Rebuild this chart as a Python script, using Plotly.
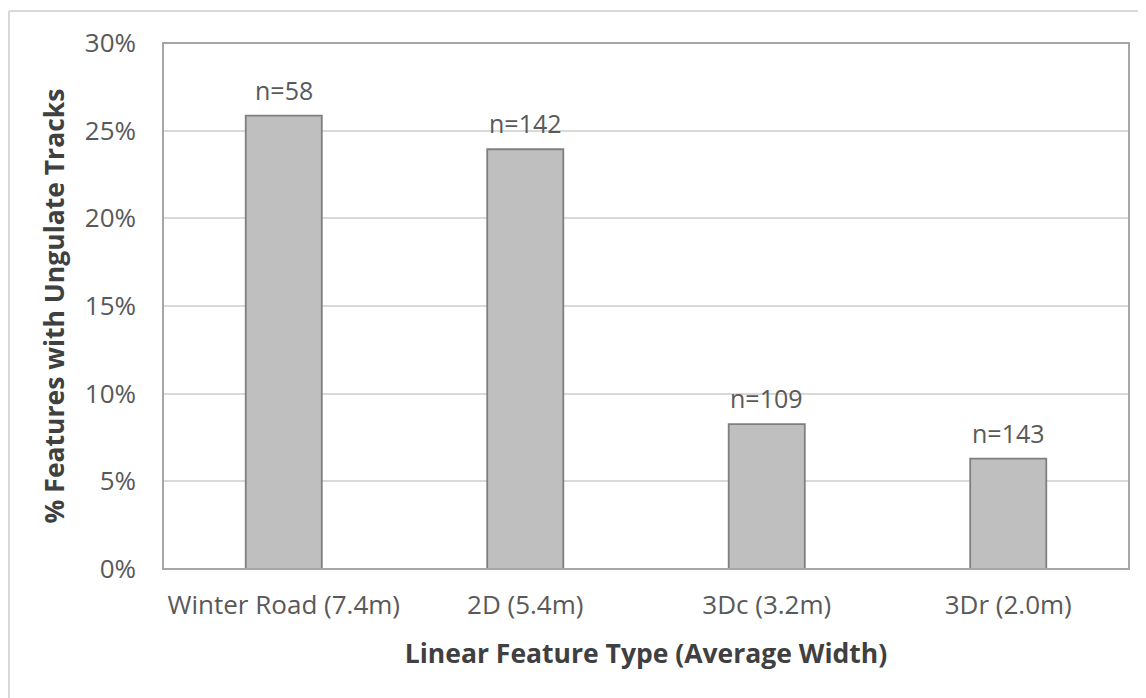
import plotly.graph_objects as go

categories = ["Winter Road (7.4m)", "2D (5.4m)", "3Dc (3.2m)", "3Dr (2.0m)"]
pct_values = [25.86, 23.94, 8.26, 6.29]
n_labels = ["n=58", "n=142", "n=109", "n=143"]
y_ticks = [0, 5, 10, 15, 20, 25, 30]

W, H = 1146, 698
L, T = 155, 35
pw, ph = 966, 526
R, B = W - L - pw, H - T - ph

def px_x(p):
    return (p - L) / pw

def px_y(p):
    return (T + ph - p) / ph

FONT = "Open Sans"
TXT = "#595959"
TSZ = 26

fig = go.Figure()
fig.add_trace(go.Bar(
    x=categories, y=pct_values,
    marker=dict(color="#bfbfbf", line=dict(color="#7f7f7f", width=1.8)),
    width=0.315, hoverinfo="skip",
))

for c, v, t in zip(categories, pct_values, n_labels):
    fig.add_annotation(x=c, y=v, text=t, showarrow=False, yanchor="bottom",
                       yshift=7, font=dict(family=FONT, size=25, color=TXT))

# outer chart border (top and left visible)
fig.add_shape(type="line", xref="paper", yref="paper",
              x0=px_x(1), x1=px_x(W + 5), y0=px_y(3), y1=px_y(3),
              line=dict(color="#d9d9d9", width=2), layer="below")
fig.add_shape(type="line", xref="paper", yref="paper",
              x0=px_x(1), x1=px_x(1), y0=px_y(3), y1=px_y(H + 5),
              line=dict(color="#d9d9d9", width=2), layer="below")
# plot-area border
fig.add_shape(type="rect", xref="paper", yref="paper", x0=0, x1=1, y0=0, y1=1,
              line=dict(color="#a6a6a6", width=2), layer="above")

fig.update_layout(
    width=W, height=H,
    margin=dict(l=L, r=R, t=T, b=B),
    paper_bgcolor="white", plot_bgcolor="white",
    showlegend=False,
    font=dict(family=FONT, color=TXT),
    xaxis=dict(
        showgrid=False, ticks="", showline=False, ticklabelstandoff=18,
        tickfont=dict(family=FONT, size=TSZ, color=TXT),
        title=dict(text="<b>Linear Feature Type (Average Width)</b>",
                   font=dict(family=FONT, size=26.5, color="#404040"), standoff=23),
    ),
    yaxis=dict(
        range=[0, 30], tickvals=y_ticks, ticktext=[f"{v}%" for v in y_ticks],
        showgrid=True, gridcolor="#d9d9d9", gridwidth=2, zeroline=False,
        showline=False, ticks="", ticklabelstandoff=26,
        tickfont=dict(family=FONT, size=TSZ, color=TXT),
        title=dict(text="<b>% Features with Ungulate Tracks</b>",
                   font=dict(family=FONT, size=26.5, color="#404040"), standoff=12),
    ),
)

fig.write_html("out.html")
